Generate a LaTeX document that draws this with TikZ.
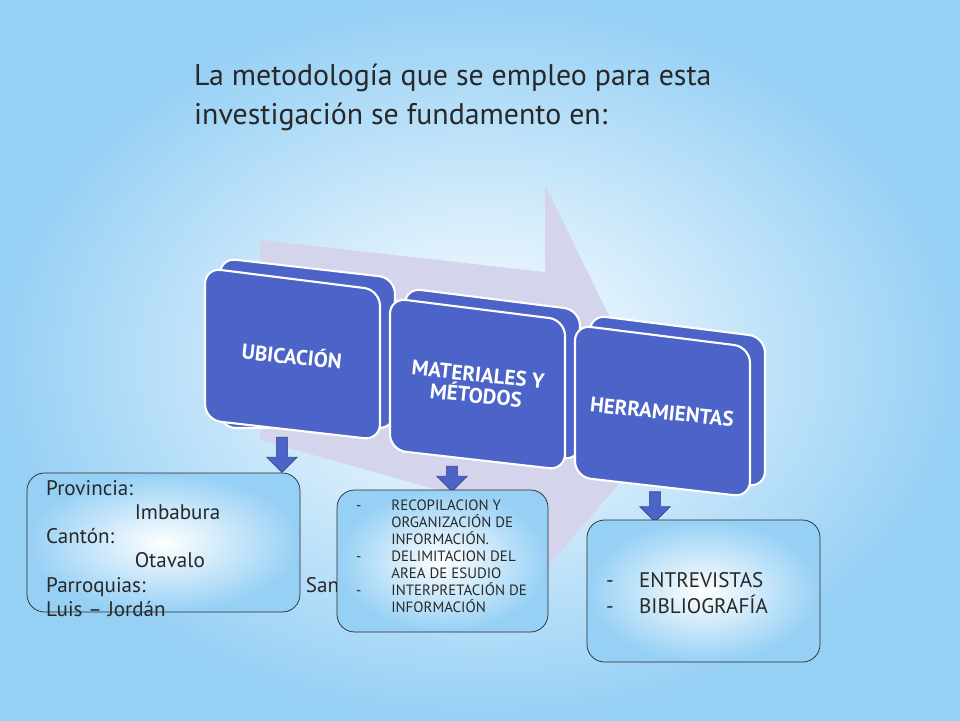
\documentclass[tikz,border=0pt]{standalone}
\usepackage{fontspec}
\setmainfont{PT Sans}
\usetikzlibrary{shapes.arrows, positioning}
\definecolor{bgblue}{RGB}{150,208,245}
\definecolor{stepblue}{RGB}{76,100,200}
\definecolor{arrowgray}{RGB}{212,212,236}
\definecolor{textdark}{RGB}{40,40,40}

\begin{document}
\begin{tikzpicture}[
    x=0.02cm, y=-0.02cm,
    stepcard/.style={draw=white, line width=1.2pt, fill=stepblue, rounded corners=9pt},
    steplabel/.style={font=\bfseries\fontsize{12}{12}\selectfont, text=white, align=center, rotate=-6},
    infobox/.style={draw=textdark, rounded corners=10pt, inner color=white, outer color=bgblue},
    infotext/.style={font=\fontsize{8.5}{9.6}\selectfont, text=textdark, align=left, anchor=north west},
    downarrow/.style={single arrow, draw=stepblue!70!black, fill=stepblue, shape border rotate=270, minimum height=0.7cm, minimum width=0.6cm, single arrow head extend=2pt, inner sep=1pt},
]

% Background
\path[inner color=white, outer color=bgblue] (0,0) rectangle (960,720);
\useasboundingbox (0,0) rectangle (960,720);

% Title
\node[font=\fontsize{17}{22}\selectfont, text=textdark, align=left, anchor=north west] (title) at (188,58) {La metodología que se empleo para esta\\investigación se fundamento en:};

% Big process arrow
\fill[arrowgray] (260,240) -- (545,272) -- (545,185) -- (665,430) -- (545,570) -- (545,520) -- (260,440) -- cycle;

% Step cards
\draw[stepcard] (220,258) -- (395,278) -- (395,428) -- (220,428) -- cycle;
\draw[stepcard] (205,268) -- (380,290) -- (380,440) -- (205,420) -- cycle;
\node[steplabel] (ubic) at (292,355) {UBICACIÓN};

\draw[stepcard] (405,288) -- (580,310) -- (580,460) -- (405,440) -- cycle;
\draw[stepcard] (390,298) -- (565,320) -- (565,470) -- (390,450) -- cycle;
\node[steplabel] (mat) at (477,385) {MATERIALES Y\\MÉTODOS};

\draw[stepcard] (590,315) -- (765,337) -- (765,487) -- (590,467) -- cycle;
\draw[stepcard] (575,325) -- (750,347) -- (750,497) -- (575,477) -- cycle;
\node[steplabel] (herr) at (662,412) {HERRAMIENTAS};

% Down arrows
\node[downarrow] (d1) at (282,452) {};
\node[downarrow, minimum height=0.5cm] (d2) at (452,476) {};
\node[downarrow, minimum height=0.6cm] (d3) at (655,504) {};

% Info boxes
\draw[infobox] (27,473) rectangle (300,612);
\node[infotext, font=\fontsize{12}{13.8}\selectfont] (prov) at (40,474) {Provincia:\\\hspace{4.2em}Imbabura\\Cantón:\\\hspace{4.2em}Otavalo\\Parroquias:\hspace{7.6em}San\\Luis – Jordán};

\draw[infobox] (337,490) rectangle (548,632);
\node[infotext] (metod) at (350,494) {-\hspace{2em}RECOPILACION Y\\\hspace{2.35em}ORGANIZACIÓN DE\\\hspace{2.35em}INFORMACIÓN.\\-\hspace{2em}DELIMITACION DEL\\\hspace{2.35em}AREA DE ESUDIO\\-\hspace{2em}INTERPRETACIÓN DE\\\hspace{2.35em}INFORMACIÓN};

\draw[infobox] (587,520) rectangle (820,662);
\node[infotext, font=\fontsize{12}{15}\selectfont] (tools) at (600,566) {-\hspace{1.2em}ENTREVISTAS\\-\hspace{1.2em}BIBLIOGRAFÍA};

\end{tikzpicture}
\end{document}
